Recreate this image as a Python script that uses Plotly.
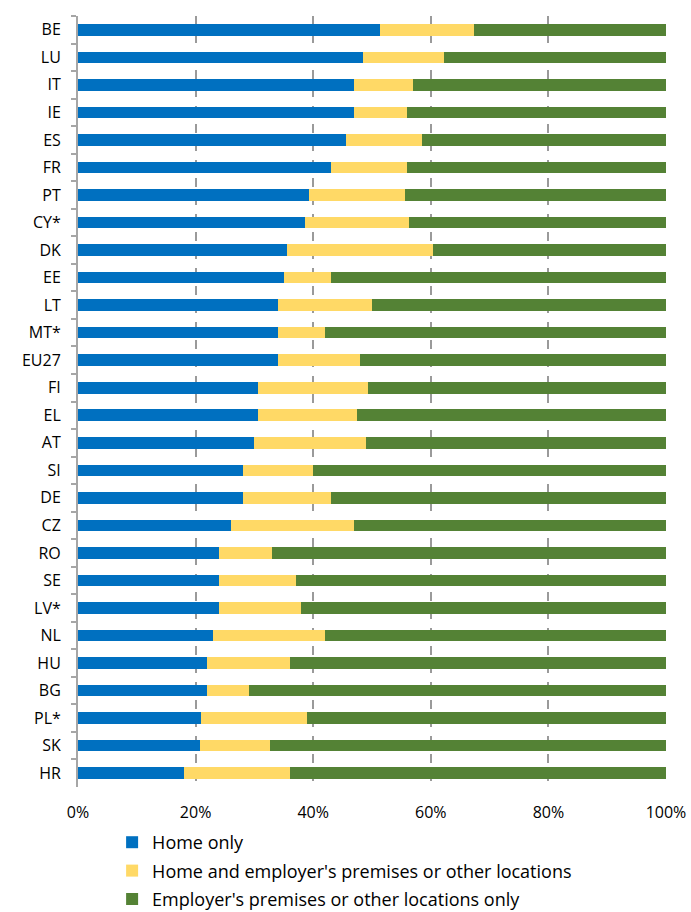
import plotly.graph_objects as go

# Share of teleworkers by place of work, per country (%)
countries = ["BE", "LU", "IT", "IE", "ES", "FR", "PT", "CY*", "DK", "EE", "LT", "MT*",
             "EU27", "FI", "EL", "AT", "SI", "DE", "CZ", "RO", "SE", "LV*", "NL", "HU",
             "BG", "PL*", "SK", "HR"]
home_only = [51.3, 48.5, 47.0, 47.0, 45.5, 43.0, 39.3, 38.6, 35.5, 35.0, 34.0, 34.0,
             34.0, 30.6, 30.6, 30.0, 28.0, 28.0, 26.0, 24.0, 24.0, 24.0, 23.0, 22.0,
             22.0, 21.0, 20.8, 18.0]
home_and_other = [16.0, 13.8, 10.0, 9.0, 13.0, 13.0, 16.3, 17.7, 24.8, 8.0, 16.0, 8.0,
                  14.0, 18.8, 16.9, 19.0, 12.0, 15.0, 21.0, 9.0, 13.0, 14.0, 19.0, 14.0,
                  7.0, 18.0, 11.9, 18.0]
employer_only = [32.7, 37.7, 43.0, 44.0, 41.5, 44.0, 44.4, 43.7, 39.7, 57.0, 50.0, 58.0,
                 52.0, 50.6, 52.5, 51.0, 60.0, 57.0, 53.0, 67.0, 63.0, 62.0, 58.0, 64.0,
                 71.0, 61.0, 67.3, 64.0]
x_ticks = [0, 20, 40, 60, 80, 100]
x_tick_labels = ["0%", "20%", "40%", "60%", "80%", "100%"]

series = [
    ("Home only", home_only, "#0070C0"),
    ("Home and employer's premises or other locations", home_and_other, "#FFD966"),
    ("Employer's premises or other locations only", employer_only, "#548235"),
]

FONT = "'Open Sans', 'Noto Sans', sans-serif"

fig = go.Figure()
for i, (name, vals, color) in enumerate(series):
    fig.add_trace(go.Bar(
        y=countries, x=vals, name=name, orientation="h",
        marker=dict(color=color, line=dict(width=0)),
        legendgroup=f"g{i}",
    ))

fig.update_layout(
    width=691, height=912,
    barmode="stack", bargap=0.58,
    plot_bgcolor="white", paper_bgcolor="white",
    margin=dict(l=78, r=25, t=16, b=125, autoexpand=False),
    font=dict(family=FONT, size=16, color="#000000"),
    showlegend=True,
    legend=dict(
        orientation="v", x=0.058, xanchor="left", y=-0.048, yanchor="top",
        traceorder="grouped", tracegroupgap=2,
        font=dict(family=FONT, size=18, color="#000000"),
        itemwidth=30, bgcolor="rgba(0,0,0,0)",
    ),
    xaxis=dict(
        range=[0, 100], tickvals=x_ticks, ticktext=x_tick_labels,
        showgrid=True, gridcolor="#9A9A9A", griddash="dash", gridwidth=1.5,
        zeroline=False, showline=False, ticks="",
        ticklabelstandoff=14, automargin=False,
        tickfont=dict(family=FONT, size=16),
    ),
    yaxis=dict(
        categoryorder="array", categoryarray=countries, autorange="reversed",
        showline=True, linecolor="#A6A6A6", linewidth=2,
        ticks="outside", tickson="boundaries", ticklen=5, tickcolor="#A6A6A6", tickwidth=2,
        showgrid=False, ticklabelstandoff=12, automargin=False,
        tickfont=dict(family=FONT, size=16),
    ),
)

fig.write_html("out.html")
